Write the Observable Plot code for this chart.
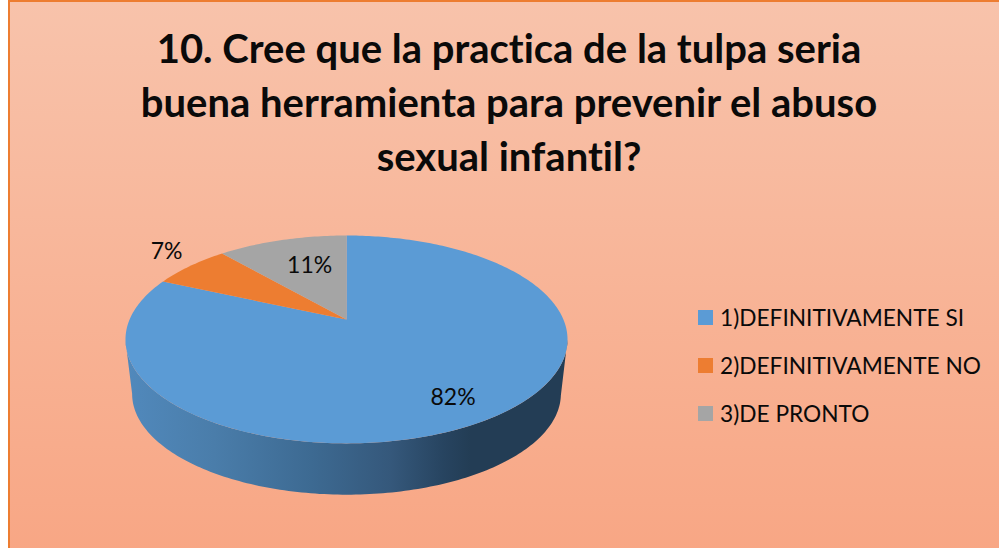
<!DOCTYPE html>
<html>
<head>
<meta charset="utf-8">
<script src="https://cdn.jsdelivr.net/npm/d3@7"></script>
<script src="https://cdn.jsdelivr.net/npm/@observablehq/plot@0.6"></script>
<style>
  html, body { margin: 0; padding: 0; background: #fff; }
  #frame { position: absolute; left: 0; top: 0; width: 999px; height: 548px; overflow: hidden; }
  #panel { position: absolute; left: 8px; top: 0; width: 1000px; height: 560px; box-sizing: border-box;
           border: 2px solid #ED7D31; background: linear-gradient(180deg, #F8C3AB 0%, #F8A684 100%); }
  #title { position: absolute; left: 109px; width: 800px; top: 21px; text-align: center; font: 700 40px/54px Lato, sans-serif; color: #0a0a0a; font-variant-ligatures: none; }
  #chart { position: absolute; left: 0; top: 0; }
  .lg { position: absolute; left: 698px; width: 300px; height: 16px; font: 400 22.7px/15px Lato, sans-serif; color: #0a0a0a; white-space: nowrap; font-variant-ligatures: none; }
  .lg i { display: inline-block; width: 15px; height: 15px; margin-right: 7px; vertical-align: top; }
</style>
</head>
<body>
<div id="frame">
  <div id="panel"></div>
  <div id="chart"></div>
  <div id="title">10. Cree que la practica de la tulpa seria<br>buena herramienta para prevenir el abuso<br>sexual infantil?</div>
  <div id="legend"></div>
</div>
<script>
// Data
const categories = ["1)DEFINITIVAMENTE SI", "2)DEFINITIVAMENTE NO", "3)DE PRONTO"];
const shares = [81.7, 6.9, 11.4];
const colors = ["#5B9BD5", "#ED7D31", "#A5A5A5"];

// Perspective of the tilted disc
const k = 0.192;
const project = (deg, r = 1, scale = 1, drop = 0) => {
  const t = deg * Math.PI / 180, w = 1 + k * r * Math.cos(t);
  return {x: scale * r * Math.sin(t) / w, y: scale * r * Math.cos(t) / w - drop};
};
const A = 216.9, B = 100.1, cx = 346, cy = 319;
const step = 1;

// Slices of the top face (clockwise from twelve o'clock, last slice ends at the top)
const total = d3.sum(shares);
let acc = 0;
const slices = categories.map((c, i) => {
  const a0 = acc / total * 360; acc += shares[i];
  const a1 = acc / total * 360;
  return {category: c, a0, a1, share: shares[i]};
});
const faces = slices.flatMap(s => {
  const pts = [{category: s.category, x: 0, y: 0}];
  for (let a = s.a0; a < s.a1; a += step) pts.push({category: s.category, ...project(a)});
  pts.push({category: s.category, ...project(s.a1)});
  return pts;
});

// Visible wall of the disc (front part between silhouette extremes)
const silhouette = Math.acos(-k) * 180 / Math.PI;
const wallDrop = 55 / B, wallScale = 0.97;
const wall = [];
for (let a = silhouette; a <= 360 - silhouette; a += step) wall.push(project(a));
for (let a = 360 - silhouette; a >= silhouette; a -= step) wall.push(project(a, 1, wallScale, wallDrop));

// Data labels
const labelPlaces = [{a: 147.7, r: 0.80}, {a: 309.3, r: 1.232}, {a: 342.5, r: 0.631}];
const labels = slices.map((s, i) => ({
  text: Math.round(s.share) + "%",
  ...project(labelPlaces[i].a, labelPlaces[i].r)
}));

const defs = () => {
  const d = d3.create("svg:defs");
  const g = d.append("linearGradient").attr("id", "wallGrad")
    .attr("gradientUnits", "userSpaceOnUse").attr("x1", 125).attr("x2", 567).attr("y1", 0).attr("y2", 0);
  [[0, "#5189BC"], [0.2, "#4A7DAA"], [0.42, "#3D6A92"], [0.6, "#35587B"], [0.72, "#274460"], [0.78, "#233D55"], [1, "#233D55"]]
    .forEach(([o, c]) => g.append("stop").attr("offset", o).attr("stop-color", c));
  return d.node();
};

const plot = Plot.plot({
  width: 999, height: 548,
  margin: 0,
  style: {background: "transparent"},
  x: {domain: [-cx / A, (999 - cx) / A], range: [0, 999], axis: null},
  y: {domain: [cy / B, -(548 - cy) / B], range: [0, 548], axis: null},
  color: {domain: categories, range: colors},
  marks: [
    defs,
    Plot.line(wall, {x: "x", y: "y", fill: "url(#wallGrad)", stroke: "none"}),
    Plot.line(faces, {x: "x", y: "y", z: "category", fill: "category", stroke: "none"}),
    Plot.text(labels, {x: "x", y: "y", text: "text", fontSize: 23, fontFamily: "Lato, sans-serif", fill: "#0a0a0a"})
  ]
});
document.getElementById("chart").appendChild(plot);

// Legend
const legendTops = [310, 358, 406];
const legend = document.getElementById("legend");
categories.forEach((c, i) => {
  const row = document.createElement("div");
  row.className = "lg";
  row.style.top = legendTops[i] + "px";
  row.innerHTML = `<i style="background:${colors[i]}"></i>${c}`;
  legend.appendChild(row);
});
</script>
</body>
</html>
